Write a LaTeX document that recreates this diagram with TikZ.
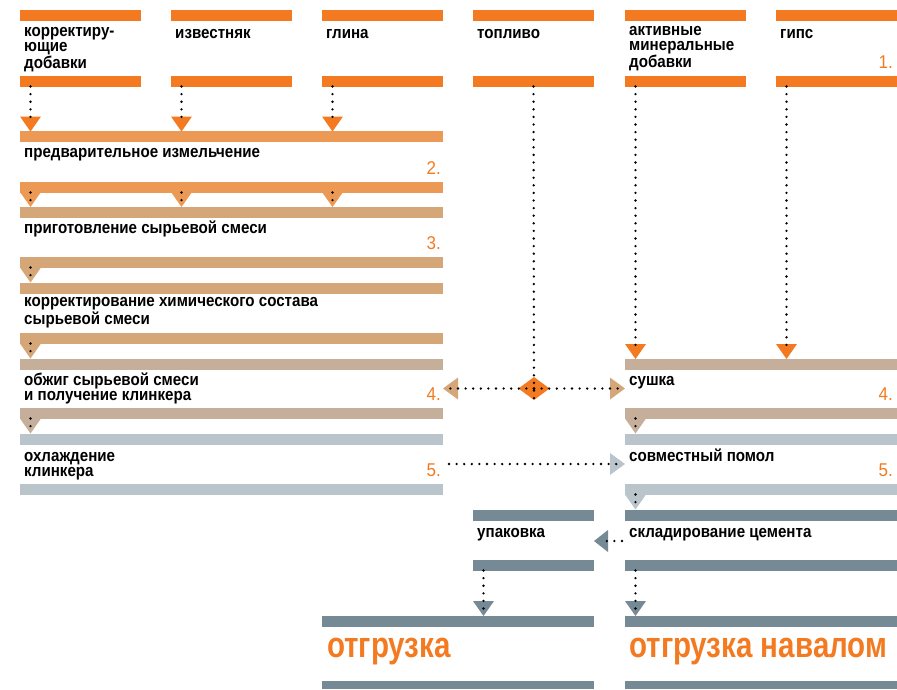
\documentclass[tikz,border=0pt]{standalone}
\usepackage{fontspec}
\setmainfont{Liberation Sans}
\newfontfamily\labfont[FakeStretch=0.89]{Liberation Sans}
\newfontfamily\numfont[FakeStretch=0.92]{Liberation Sans}
\newfontfamily\bigfont[FakeStretch=0.82]{Liberation Sans}
\definecolor{orng}{HTML}{F37A20}
\definecolor{cii}{HTML}{EB9955}
\definecolor{ciii}{HTML}{D5A678}
\definecolor{civ}{HTML}{C5AF9B}
\definecolor{cv}{HTML}{B9C4CB}
\definecolor{cpk}{HTML}{768A96}
\newcommand\dtri[3]{\fill[#3] (#1-10.5,#2) -- (#1+10.5,#2) -- (#1,#2+15) -- cycle;}
\begin{document}
\begin{tikzpicture}[x=1pt,y=-1pt,
  bar/.style={rectangle, inner sep=0pt, outer sep=0pt, minimum height=10.5pt, anchor=north west, draw=none},
  lab/.style={anchor=base west, inner sep=0pt, align=left, font=\labfont\bfseries\fontsize{17}{15}\selectfont},
  numl/.style={anchor=base east, inner sep=0pt, text=orng, font=\numfont\fontsize{18.5}{18.5}\selectfont},
  big/.style={anchor=base west, inner sep=0pt, text=orng, font=\bigfont\bfseries\fontsize{36}{36}\selectfont},
  dots/.style={line width=2.6pt, dash pattern=on 0pt off 7.6pt, line cap=round, black}]
\useasboundingbox (0,0) rectangle (897,689);
% top sources
\foreach \n/\x in {c1/20,c2/171,c3/322,c4/473,c5/625,c6/776}{
  \node[bar, fill=orng, minimum width=121pt] (\n t) at (\x,10) {};
  \node[bar, fill=orng, minimum width=121pt] (\n b) at (\x,76) {};
}
% left chain
\node[bar, fill=cii, minimum width=423pt] (s2t) at (20,131) {};
\node[bar, fill=cii, minimum width=423pt] (s2b) at (20,182) {};
\node[bar, fill=ciii, minimum width=423pt] (s3t) at (20,207) {};
\node[bar, fill=ciii, minimum width=423pt] (s3b) at (20,257) {};
\node[bar, fill=ciii, minimum width=423pt] (s3ct) at (20,283) {};
\node[bar, fill=ciii, minimum width=423pt] (s3cb) at (20,333) {};
\node[bar, fill=civ, minimum width=423pt] (s4t) at (20,359) {};
\node[bar, fill=civ, minimum width=423pt] (s4b) at (20,408) {};
\node[bar, fill=cv, minimum width=423pt] (s5t) at (20,434) {};
\node[bar, fill=cv, minimum width=423pt] (s5b) at (20,484) {};
% right chain
\node[bar, fill=civ, minimum width=272pt] (r4t) at (625,359) {};
\node[bar, fill=civ, minimum width=272pt] (r4b) at (625,408) {};
\node[bar, fill=cv, minimum width=272pt] (r5t) at (625,434) {};
\node[bar, fill=cv, minimum width=272pt] (r5b) at (625,484) {};
\node[bar, fill=cpk, minimum width=121pt] (pkt) at (473,510) {};
\node[bar, fill=cpk, minimum width=121pt] (pkb) at (473,560) {};
\node[bar, fill=cpk, minimum width=272pt] (stt) at (625,510) {};
\node[bar, fill=cpk, minimum width=272pt] (stb) at (625,560) {};
\node[bar, fill=cpk, minimum width=272pt] (sht) at (322,616) {};
\node[bar, fill=cpk, minimum width=272pt, minimum height=8pt] (shb) at (322,681) {};
\node[bar, fill=cpk, minimum width=272pt] (svt) at (625,616) {};
\node[bar, fill=cpk, minimum width=272pt, minimum height=8pt] (svb) at (625,681) {};
% triangles
\foreach \x in {30.5,181.5,332.5}{\dtri{\x}{116.5}{orng}\dtri{\x}{192}{cii}}
\dtri{30.5}{267.5}{ciii}
\dtri{30.5}{343.5}{ciii}
\dtri{30.5}{418.5}{civ}
\dtri{635.5}{344}{orng}
\dtri{786.5}{344}{orng}
\dtri{635.5}{418.5}{civ}
\dtri{635.5}{494.5}{cv}
\dtri{483.5}{601}{cpk}
\dtri{635.5}{601}{cpk}
\fill[ciii] (443,388.5) -- (458,377.5) -- (458,399.5) -- cycle;
\fill[ciii] (625,388.5) -- (610,377.5) -- (610,399.5) -- cycle;
\fill[cv] (625,464) -- (610,453) -- (610,475) -- cycle;
\fill[cpk] (594,541) -- (608,530) -- (608,552) -- cycle;
\fill[orng] (534,377) -- (549.5,388.5) -- (534,400) -- (518.5,388.5) -- cycle;
\coordinate (fuel) at (534,388.5);
\coordinate (toL) at (450,388.5);
\coordinate (toR) at (618,388.5);
\coordinate (fromV) at (449,464);
\coordinate (toV) at (618,464);
\coordinate (toPk) at (601,541);
% dotted connectors
\foreach \n in {c1,c2,c3}{
  \draw[dots] ([xshift=10.5pt]\n b.south west) -- ([xshift=10.5pt,yshift=7pt]s2t.north west -| \n b.south west);
}
\foreach \d in {0,151,302}{
  \draw[dots] ([xshift=10.5pt+\d pt]s2b.south west) -- ([xshift=10.5pt+\d pt,yshift=6pt]s3t.north west);
}
\draw[dots] ([xshift=10.5pt]s3b.south west) -- ([xshift=10.5pt,yshift=7pt]s3ct.north west);
\draw[dots] ([xshift=10.5pt]s3cb.south west) -- ([xshift=10.5pt,yshift=7pt]s4t.north west);
\draw[dots] ([xshift=10.5pt]s4b.south west) -- ([xshift=10.5pt,yshift=7pt]s5t.north west);
\draw[dots] (c4b.south) -- ([yshift=-11pt]fuel);
\draw[dots] (fuel) -- (toL);
\draw[dots] (fuel) -- (toR);
\draw[dots] (fromV) -- (toV);
\draw[dots] ([xshift=10.5pt]c5b.south west) -- ([xshift=10.5pt,yshift=7pt]r4t.north west);
\draw[dots] ([xshift=10.5pt]c6b.south west) -- ([xshift=10.5pt,yshift=7pt]r4t.north west -| c6b.south west);
\draw[dots] ([xshift=10.5pt]r4b.south west) -- ([xshift=10.5pt,yshift=7pt]r5t.north west);
\draw[dots] ([xshift=10.5pt]r5b.south west) -- ([xshift=10.5pt,yshift=7pt]stt.north west);
\draw[dots] (stt.south west |- toPk) ++(-3,0) -- (toPk);
\draw[dots] ([xshift=10.5pt]pkb.south west) -- ([xshift=10.5pt,yshift=4pt]sht.north west -| pkb.south west);
\draw[dots] ([xshift=10.5pt]stb.south west) -- ([xshift=10.5pt,yshift=4pt]svt.north west);
% labels (multi-line nodes anchored at the baseline of their last line)
\node[lab] (l1) at (24,68) {корректиру-\\ющие\\добавки};
\node[lab] (l2) at (175,38) {известняк};
\node[lab] (l3) at (326,38) {глина};
\node[lab] (l4) at (477,38) {топливо};
\node[lab] (l5) at (629,67) {активные\\минеральные\\добавки};
\node[lab] (l6) at (780,38) {гипс};
\node[numl] (n1) at (893,68) {1.};
\node[lab] (t2) at (24,157) {предварительное измельчение};
\node[numl] (n2) at (441,174) {2.};
\node[lab] (t3) at (24,233) {приготовление сырьевой смеси};
\node[numl] (n3) at (441,249) {3.};
\node[lab] (t3c) at (24,324) {корректирование химического состава\\сырьевой смеси};
\node[lab] (t4) at (24,400) {обжиг сырьевой смеси\\и получение клинкера};
\node[numl] (n4) at (441,400) {4.};
\node[lab] (t5) at (24,476) {охлаждение\\клинкера};
\node[numl] (n5) at (441,476) {5.};
\node[lab] (r4) at (629,385) {сушка};
\node[numl] (nr4) at (893,400) {4.};
\node[lab] (r5) at (629,461) {совместный помол};
\node[numl] (nr5) at (893,476) {5.};
\node[lab] (tpk) at (477,537) {упаковка};
\node[lab] (tst) at (629,537) {складирование цемента};
\node[big] (g1) at (327,657) {отгрузка};
\node[big] (g2) at (629,657) {отгрузка навалом};
\end{tikzpicture}
\end{document}
